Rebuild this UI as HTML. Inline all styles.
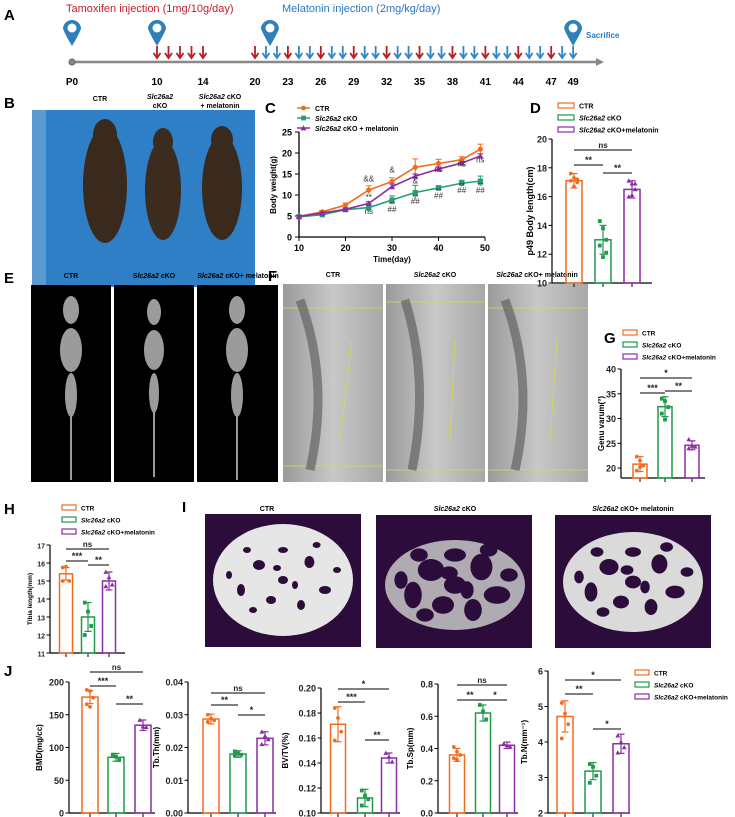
<!DOCTYPE html>
<html><head><meta charset="utf-8"><style>
html,body{margin:0;padding:0;background:#fff;}
svg{display:block;font-family:"Liberation Sans",Arial,sans-serif;}
</style></head><body>
<svg id="fig" width="735" height="817" viewBox="0 0 735 817" xmlns="http://www.w3.org/2000/svg">
<defs>
<linearGradient id="xr" x1="0" x2="1"><stop offset="0" stop-color="#9a9a9a"/><stop offset="0.5" stop-color="#c8c8c8"/><stop offset="1" stop-color="#a8a8a8"/></linearGradient>
</defs>
<g id="panelA">
<text x="4" y="20" font-size="15" font-weight="bold">A</text>
<text x="66" y="12" font-size="11" fill="#c0202a">Tamoxifen injection  (1mg/10g/day)</text>
<text x="282" y="12" font-size="11" fill="#2a78c0">Melatonin injection (2mg/kg/day)</text>
<line x1="72" y1="62" x2="596" y2="62" stroke="#888" stroke-width="2.5"/>
<polygon points="596,58 604,62 596,66" fill="#888"/>
<circle cx="72" cy="62" r="3" fill="#888" stroke="#666"/>
<text x="586" y="38" font-size="8" fill="#2a78c0" font-weight="bold">Sacrifice</text>
</g>
<g id="panelB">
<text x="4" y="108" font-size="15" font-weight="bold">B</text>
<rect x="32" y="110" width="223" height="177" fill="#2f7fc6"/>
<rect x="32" y="110" width="14" height="177" fill="#5a9ad0"/>
<text x="100" y="101" font-size="7" font-weight="bold" text-anchor="middle">CTR</text>
<text x="160" y="99" font-size="7" font-weight="bold" font-style="italic" text-anchor="middle">Slc26a2</text>
<text x="160" y="108" font-size="7" font-weight="bold" text-anchor="middle">cKO</text>
<text x="220" y="99" font-size="7" font-weight="bold" text-anchor="middle"><tspan font-style="italic">Slc26a2</tspan> cKO</text>
<text x="220" y="108" font-size="7" font-weight="bold" text-anchor="middle">+ melatonin</text>
<ellipse cx="105" cy="185" rx="22" ry="58" fill="#3a2a1e"/><ellipse cx="105" cy="135" rx="12" ry="16" fill="#3a2a1e"/>
<ellipse cx="163" cy="190" rx="18" ry="50" fill="#3c2c20"/><ellipse cx="163" cy="142" rx="10" ry="14" fill="#3c2c20"/>
<ellipse cx="222" cy="188" rx="20" ry="52" fill="#3a2a1e"/><ellipse cx="222" cy="140" rx="11" ry="14" fill="#3a2a1e"/>
</g>
<g id="panelE">
<text x="4" y="283" font-size="15" font-weight="bold">E</text>
<rect x="31" y="285" width="80" height="197" fill="#000"/><rect x="114" y="285" width="80" height="197" fill="#000"/><rect x="197" y="285" width="81" height="197" fill="#000"/>
<text x="71" y="278" font-size="7" font-weight="bold" text-anchor="middle">CTR</text>
<text x="154" y="278" font-size="7" font-weight="bold" text-anchor="middle"><tspan font-style="italic">Slc26a2</tspan> cKO</text>
<text x="238" y="278" font-size="7" font-weight="bold" text-anchor="middle"><tspan font-style="italic">Slc26a2</tspan> cKO+ melatonin</text>
<g fill="#cfcfcf" opacity="0.75"><ellipse cx="71" cy="310" rx="8" ry="14"/><ellipse cx="71" cy="350" rx="11" ry="22"/><ellipse cx="71" cy="395" rx="6" ry="22"/><rect x="70" y="415" width="2" height="65"/>
<ellipse cx="154" cy="312" rx="7" ry="13"/><ellipse cx="154" cy="350" rx="10" ry="20"/><ellipse cx="154" cy="393" rx="5" ry="20"/><rect x="153" y="412" width="2" height="65"/>
<ellipse cx="237" cy="310" rx="8" ry="14"/><ellipse cx="237" cy="350" rx="11" ry="22"/><ellipse cx="237" cy="395" rx="6" ry="22"/><rect x="236" y="415" width="2" height="65"/></g>
</g>
<g id="panelF">
<text x="268" y="281" font-size="15" font-weight="bold">F</text>
<rect x="283" y="284" width="100" height="198" fill="url(#xr)"/><rect x="386" y="284" width="99" height="198" fill="url(#xr)"/><rect x="488" y="284" width="100" height="198" fill="url(#xr)"/>
<text x="333" y="277" font-size="7" font-weight="bold" text-anchor="middle">CTR</text>
<text x="435" y="277" font-size="7" font-weight="bold" text-anchor="middle"><tspan font-style="italic">Slc26a2</tspan> cKO</text>
<text x="537" y="277" font-size="7" font-weight="bold" text-anchor="middle"><tspan font-style="italic">Slc26a2</tspan> cKO+ melatonin</text>
<g stroke="#dcd84a" stroke-width="0.8" fill="none">
<line x1="283" y1="308" x2="383" y2="308"/><line x1="283" y1="466" x2="383" y2="466"/><line x1="352" y1="340" x2="340" y2="440"/>
<line x1="386" y1="302" x2="485" y2="302"/><line x1="386" y1="470" x2="485" y2="470"/><line x1="455" y1="340" x2="450" y2="440"/>
<line x1="488" y1="308" x2="588" y2="308"/><line x1="488" y1="470" x2="588" y2="470"/><line x1="557" y1="340" x2="550" y2="440"/></g>
<g stroke="#555" stroke-width="9" fill="none" opacity="0.6"><path d="M300 300 Q330 380 310 470"/><path d="M405 300 Q430 380 412 470"/><path d="M505 300 Q535 380 515 470"/></g>
</g>
<g id="panelI">
<text x="182" y="512" font-size="15" font-weight="bold">I</text>
<rect x="205" y="514" width="156" height="133" fill="#2b0c3a"/><rect x="376" y="515" width="156" height="133" fill="#2b0c3a"/><rect x="555" y="515" width="156" height="133" fill="#2b0c3a"/>
<text x="267" y="511" font-size="7" font-weight="bold" text-anchor="middle">CTR</text>
<text x="455" y="511" font-size="7" font-weight="bold" text-anchor="middle"><tspan font-style="italic">Slc26a2</tspan> cKO</text>
<text x="633" y="511" font-size="7" font-weight="bold" text-anchor="middle"><tspan font-style="italic">Slc26a2</tspan> cKO+ melatonin</text>
<ellipse cx="283" cy="580" rx="70" ry="56" fill="#e6e6e6"/>
<g fill="#2b0c3a" id="holes1"></g>
<ellipse cx="455" cy="585" rx="70" ry="45" fill="#c8c8c8" opacity="0.85"/>
<g fill="#2b0c3a" id="holes2"></g>
<ellipse cx="633" cy="582" rx="70" ry="50" fill="#dadada"/>
<g fill="#2b0c3a" id="holes3"></g>
</g>
<g id="charts"></g>
</svg>
<script>
// ---- Panel C data ----
var cDays=[10,15,20,25,30,35,40,45,49];
var cCTR=[4.9,6.0,7.6,11.2,13.2,16.6,17.5,18.4,20.9];
var cCTRerr=[0.3,0.3,0.5,1.0,0.9,2.0,1.0,0.7,1.2];
var cKO=[4.8,5.3,6.5,7.0,8.8,10.6,11.7,12.8,13.3];
var cKOerr=[0.2,0.3,0.3,0.9,1.0,1.7,0.5,0.7,1.2];
var cMel=[4.9,5.7,6.6,8.0,12.0,14.5,16.2,17.6,19.3];
var cMelErr=[0.2,0.3,0.3,0.4,0.6,0.5,0.5,0.4,0.5];
var cTicksX=[10,20,30,40,50];
var cTicksY=[0,5,10,15,20,25];
// ---- Timeline data ----
var tlDays=[10,14,20,23,26,29,32,35,38,41,44,47,49];
var tamoxDays=[10,11,12,13,14,20,23,26,29,32,35,38,41,44,47];
var melDays=[21,22,24,25,27,28,30,31,33,34,36,37,39,40,42,43,45,46,48,49];
var pinDays=[0,10,20,49];
// ---- Bar chart data ----
var dMeans=[17.1,13.0,16.5], dErr=[0.5,1.0,0.6];
var dPts=[[17.6,17.3,17.0,17.1,16.7,17.2],[14.3,13.8,13.0,12.6,11.8,12.1],[17.1,16.9,16.5,16.0,16.1,16.9]];
var gMeans=[20.8,32.4,24.6], gErr=[1.5,2.0,0.9];
var gPts=[[22.3,21.5,20.5,19.5,20.2],[34.0,33.5,32.3,31.0,29.8],[25.8,24.5,24.3,24.0]];
var hMeans=[15.4,13.0,15.0], hErr=[0.35,0.8,0.5];
var hPts=[[15.75,15.8,15.0,15.0],[13.8,13.3,12.5,12.0],[15.5,15.2,14.8,14.7]];
var bmdMeans=[177,85,134], bmdErr=[10,6,8];
var bmdPts=[[188,186,176,166,162],[89,86,81],[142,132,131]];
var tbthMeans=[0.0287,0.0180,0.0228], tbthErr=[0.0015,0.001,0.002];
var tbthPts=[[0.030,0.0288,0.0283,0.0278],[0.0188,0.0182,0.0178,0.0175],[0.0248,0.0235,0.0225,0.021]];
var bvtvMeans=[0.171,0.112,0.144], bvtvErr=[0.014,0.007,0.004];
var bvtvPts=[[0.184,0.176,0.165,0.158],[0.118,0.114,0.111,0.106],[0.148,0.145,0.141]];
var tbspMeans=[0.36,0.62,0.42], tbspErr=[0.04,0.05,0.02];
var tbspPts=[[0.41,0.38,0.36,0.34,0.33],[0.67,0.63,0.58],[0.43,0.42,0.41]];
var tbnMeans=[4.72,3.18,3.95], tbnErr=[0.44,0.24,0.27];
var tbnPts=[[5.1,4.8,4.5,4.1],[3.38,3.3,3.05,2.85],[4.18,4.0,3.85,3.7]];
var groupNames=['CTR','Slc26a2 cKO','Slc26a2 cKO+melatonin'];

var NS='http://www.w3.org/2000/svg';
var COL=['#f26b21','#1e9a4a','#8b2da3'];
var CCOL=['#f26b21','#22a070','#8b2da3'];
var root=document.getElementById('charts');
function mk(tag,attrs,parent){var e=document.createElementNS(NS,tag);for(var k in attrs)e.setAttribute(k,attrs[k]);(parent||root).appendChild(e);return e;}
function txt(x,y,s,attrs,parent){var a={x:x,y:y};for(var k in attrs)a[k]=attrs[k];var e=mk('text',a,parent);e.textContent=s;return e;}
function marker(g,type,x,y,c,r){
 if(type===0)return mk('circle',{cx:x,cy:y,r:r,fill:c},g);
 if(type===1)return mk('rect',{x:x-r,y:y-r,width:2*r,height:2*r,fill:c},g);
 return mk('polygon',{points:(x)+','+(y-r-0.5)+' '+(x-r-0.5)+','+(y+r)+' '+(x+r+0.5)+','+(y+r),fill:c},g);
}
// timeline
(function(){
 var tl=document.getElementById('panelA');
 function dx(d){if(d===0)return 72; if(d<=14)return 157+(d-10)*11.5; return 255+(d-20)*10.97;}
 tlDays.forEach(function(d){var t=txt(dx(d),85,String(d),{'font-size':10,'font-weight':'bold','text-anchor':'middle'},tl);
  
  });
 var p0=txt(72,85,'P0',{'font-size':10,'font-weight':'bold','text-anchor':'middle'},tl);
 
 
 function arrow(d,c){var x=dx(d);var g=mk('g',{},tl);
  
  
  mk('line',{x1:x,y1:46,x2:x,y2:57,stroke:c,'stroke-width':1.8},g);
  mk('polyline',{points:(x-3.5)+',53 '+x+',58 '+(x+3.5)+',53',stroke:c,'stroke-width':1.8,fill:'none'},g);}
 tamoxDays.forEach(function(d){arrow(d,'#b81c24');});
 melDays.forEach(function(d){arrow(d,'#2f86c8');});
 pinDays.forEach(function(d){var x=dx(d);if(d===20)x=270;var g=mk('g',{},tl);
  
  
  mk('path',{d:'M'+(x-9)+' 29 A9 9 0 1 1 '+(x+9)+' 29 Q'+(x+6)+' 36 '+x+' 46 Q'+(x-6)+' 36 '+(x-9)+' 29 Z',fill:'#2f7fb8'},g);
  mk('circle',{cx:x,cy:28,r:4.5,fill:'#fff'},g);});
})();
// micro CT holes (decorative)
(function(){
 var spots=[[0,0,5,4],[-20,-15,6,5],[22,-18,5,6],[-35,10,4,6],[35,10,6,4],[-10,20,5,4],[15,25,4,5],[-45,-5,3,4],[45,-10,4,3],[0,-30,5,3],[-25,30,4,3],[28,-35,4,3],[-30,-30,4,3],[10,5,3,4],[-5,-12,4,3]];
 [['holes1',283,580,1],['holes2',455,585,2.2],['holes3',633,582,1.6]].forEach(function(h){var g=document.getElementById(h[0]);
  spots.forEach(function(s){mk('ellipse',{cx:h[1]+s[0]*1.2,cy:h[2]+s[1],rx:s[2]*h[3],ry:s[3]*h[3]},g);});});
})();
// Panel C
(function(){
 var g=mk('g',{});
 
 
 var X=function(v){return 299+(v-10)*(485-299)/40;}, Y=function(v){return 237-v*(237-132)/25;};
 txt(265,113,'C',{'font-size':15,'font-weight':'bold'},g);
 mk('line',{x1:299,y1:132,x2:299,y2:237,stroke:'#000','stroke-width':1.3},g);
 mk('line',{x1:299,y1:237,x2:485,y2:237,stroke:'#000','stroke-width':1.3},g);
 cTicksY.forEach(function(v){mk('line',{x1:295,y1:Y(v),x2:299,y2:Y(v),stroke:'#000'},g);txt(292,Y(v)+3.5,String(v),{'font-size':9,'font-weight':'bold','text-anchor':'end'},g);});
 cTicksX.forEach(function(v){mk('line',{x1:X(v),y1:237,x2:X(v),y2:241,stroke:'#000'},g);txt(X(v),251,String(v),{'font-size':9,'font-weight':'bold','text-anchor':'middle'},g);});
 txt(392,262,'Time(day)',{'font-size':8,'font-weight':'bold','text-anchor':'middle'},g);
 txt(0,0,'Body weight(g)',{'font-size':8,'font-weight':'bold','text-anchor':'middle',transform:'translate(276,185) rotate(-90)'},g);
 [[cCTR,cCTRerr],[cKO,cKOerr],[cMel,cMelErr]].forEach(function(s,si){
  var c=CCOL[si];var sg=mk('g',{},g);
  
  
  mk('polyline',{points:cDays.map(function(d,i){return X(d)+','+Y(s[0][i]);}).join(' '),fill:'none',stroke:c,'stroke-width':1.6},sg);
  cDays.forEach(function(d,i){var x=X(d);
   mk('line',{x1:x,y1:Y(s[0][i]+s[1][i]),x2:x,y2:Y(s[0][i]-s[1][i]),stroke:c},sg);
   mk('line',{x1:x-3,y1:Y(s[0][i]+s[1][i]),x2:x+3,y2:Y(s[0][i]+s[1][i]),stroke:c},sg);
   var m=marker(sg,si,x,Y(s[0][i]),c,2.6);
   
   });
 });
 var ann=[[25,13.2,'&&'],[30,15.3,'&'],[35,12.7,'&'],[25,8.8,'**'],[25,5.5,'ns'],[30,7.0,'**'],[30,6.0,'##'],[35,8.8,'**'],[35,7.8,'##'],[40,10.2,'**'],[40,9.2,'##'],[45,11.5,'**'],[45,10.5,'##'],[49,11.5,'**'],[49,10.5,'##'],[40,15.5,'ns'],[45,16.8,'ns'],[49,17.7,'ns']];
 ann.forEach(function(a){txt(X(a[0]),Y(a[1]),a[2],{'font-size':8,'text-anchor':'middle',fill:'#333'},g);});
 ['CTR','Slc26a2 cKO','Slc26a2 cKO + melatonin'].forEach(function(n,i){var y=108+i*10;
  mk('line',{x1:297,y1:y,x2:310,y2:y,stroke:CCOL[i],'stroke-width':1.5},g);marker(g,i,303.5,y,CCOL[i],2.4);
  var t=txt(315,y+3,'',{'font-size':7,'font-weight':'bold'},g);
  if(i===0)t.textContent=n;else{var a=mk('tspan',{'font-style':'italic'},t);a.textContent='Slc26a2 ';var b=mk('tspan',{},t);b.textContent=i===1?'cKO':'cKO + melatonin';}
 });
})();
// Generic bar chart
function barChart(o){
 var g=mk('g',{});
 
 
 var Y=function(v){return o.yB-(v-o.vmin)*(o.yB-o.yT)/(o.vmax-o.vmin);};
 mk('line',{x1:o.ax,y1:o.yT,x2:o.ax,y2:o.yB,stroke:'#000','stroke-width':1.2},g);
 mk('line',{x1:o.ax,y1:o.yB,x2:o.axEnd,y2:o.yB,stroke:'#000','stroke-width':1.2},g);
 o.ticks.forEach(function(v){mk('line',{x1:o.ax-3.5,y1:Y(v),x2:o.ax,y2:Y(v),stroke:'#000'},g);
  txt(o.ax-5,Y(v)+3.5,o.fmt(v),{'font-size':o.fs||9,'font-weight':'bold','text-anchor':'end',fill:'#222'},g);});
 txt(0,0,o.title,{'font-size':o.tfs||8,'font-weight':'bold','text-anchor':'middle',transform:'translate('+o.tx+','+((o.yT+o.yB)/2)+') rotate(-90)'},g);
 o.centers.forEach(function(cx,i){var c=COL[i];
  mk('line',{x1:cx,y1:o.yB,x2:cx,y2:o.yB+4,stroke:'#000'},g);
  var b=mk('rect',{x:cx-o.bw/2,y:Y(o.means[i]),width:o.bw,height:o.yB-Y(o.means[i]),fill:'none',stroke:c,'stroke-width':1.5},g);
  
  
  var hi=Y(o.means[i]+o.errs[i]),lo=Y(o.means[i]-o.errs[i]);
  mk('line',{x1:cx,y1:hi,x2:cx,y2:lo,stroke:c,'stroke-width':1.2},g);
  mk('line',{x1:cx-3.5,y1:hi,x2:cx+3.5,y2:hi,stroke:c,'stroke-width':1.2},g);
  mk('line',{x1:cx-3.5,y1:lo,x2:cx+3.5,y2:lo,stroke:c,'stroke-width':1.2},g);
  o.pts[i].forEach(function(v,k){var off=((k%3)-1)*3.2;marker(g,i,cx+off,Y(v),c,1.9);});
 });
 o.sigs.forEach(function(s){var x1=o.centers[s[0]],x2=o.centers[s[1]];
  mk('line',{x1:x1,y1:s[2],x2:x2,y2:s[2],stroke:'#000','stroke-width':1},g);
  txt((x1+x2)/2,s[2]-2,s[3],{'font-size':s[3]==='ns'?8:9,'font-weight':'bold','text-anchor':'middle',fill:'#222'},g);});
 if(o.legend){o.legend.forEach(function(l,i){var y=o.legend.y0+i*o.legend.dy;
  mk('rect',{x:o.legend.x,y:y-3,width:o.legend.w||12,height:5,fill:'none',stroke:COL[i],'stroke-width':1.2},g);
  var t=txt(o.legend.x+(o.legend.w||12)+5,y+2.5,'',{'font-size':o.legend.fs||6.5,'font-weight':'bold'},g);
  if(i===0)t.textContent='CTR';else{var a=mk('tspan',{'font-style':'italic'},t);a.textContent='Slc26a2 ';var b=mk('tspan',{},t);b.textContent=i===1?'cKO':'cKO+melatonin';}});}
 return g;
}
function L(x,y0,dy,fs,w){var a=[0,1,2];a.x=x;a.y0=y0;a.dy=dy;a.fs=fs;a.w=w;return a;}
function f0(v){return String(v);}
barChart({name:'body-length-chart',ax:552,axEnd:652,yT:139,yB:283,vmin:10,vmax:20,ticks:[10,12,14,16,18,20],fmt:f0,fs:9,centers:[574,603,632],bw:16,means:dMeans,errs:dErr,pts:dPts,
 sigs:[[0,2,150,'ns'],[0,1,165,'**'],[1,2,173,'**']],title:'p49 Body length(cm)',tfs:9,tx:533,legend:L(558,106,12,7,16)});
txt(530,113,'D',{'font-size':15,'font-weight':'bold'});
barChart({name:'genu-varum-chart',ax:621,axEnd:705,yT:369,yB:478,vmin:18,vmax:40,ticks:[20,25,30,35,40],fmt:f0,centers:[640,665,692],bw:14,means:gMeans,errs:gErr,pts:gPts,
 sigs:[[0,2,378,'*'],[0,1,393,'***'],[1,2,391,'**']],title:'Genu varum(°)',tx:604,legend:L(623,333,12,6.5,14)});
txt(604,343,'G',{'font-size':15,'font-weight':'bold'});
barChart({name:'tibia-length-chart',ax:50,axEnd:125,yT:545,yB:653,vmin:11,vmax:17,ticks:[11,12,13,14,15,16,17],fmt:f0,fs:7,centers:[66,88,109],bw:13,means:hMeans,errs:hErr,pts:hPts,
 sigs:[[0,2,549,'ns'],[0,1,561,'***'],[1,2,565,'**']],title:'Tibia length(mm)',tfs:6.5,tx:32,legend:L(62,508,12,6.5,14)});
txt(4,514,'H',{'font-size':15,'font-weight':'bold'});
txt(4,676,'J',{'font-size':15,'font-weight':'bold'});
barChart({name:'bmd-chart',ax:69,axEnd:155,yT:682,yB:813,vmin:0,vmax:200,ticks:[0,50,100,150,200],fmt:f0,centers:[90,116,143],bw:16,means:bmdMeans,errs:bmdErr,pts:bmdPts,
 sigs:[[0,2,672,'ns'],[0,1,686,'***'],[1,2,704,'**']],title:'BMD(mg/cc)',tx:42});
barChart({name:'tb-th-chart',ax:188,axEnd:276,yT:682,yB:813,vmin:0,vmax:0.04,ticks:[0,0.01,0.02,0.03,0.04],fmt:function(v){return v.toFixed(2);},centers:[211,238,265],bw:16,means:tbthMeans,errs:tbthErr,pts:tbthPts,
 sigs:[[0,2,693,'ns'],[0,1,705,'**'],[1,2,715,'*']],title:'Tb.Th(mm)',tx:159});
barChart({name:'bv-tv-chart',ax:321,axEnd:400,yT:688,yB:813,vmin:0.1,vmax:0.2,ticks:[0.10,0.12,0.14,0.16,0.18,0.20],fmt:function(v){return v.toFixed(2);},centers:[338,365,389],bw:15,means:bvtvMeans,errs:bvtvErr,pts:bvtvPts,
 sigs:[[0,2,689,'*'],[0,1,702,'***'],[1,2,740,'**']],title:'BV/TV(%)',tx:288});
barChart({name:'tb-sp-chart',ax:438,axEnd:518,yT:684,yB:813,vmin:0,vmax:0.8,ticks:[0,0.2,0.4,0.6,0.8],fmt:function(v){return v.toFixed(1);},centers:[457,483,507],bw:15,means:tbspMeans,errs:tbspErr,pts:tbspPts,
 sigs:[[0,2,685,'ns'],[0,1,700,'**'],[1,2,700,'*']],title:'Tb.Sp(mm)',tx:413});
barChart({name:'tb-n-chart',ax:548,axEnd:630,yT:671,yB:813,vmin:2,vmax:6,ticks:[2,3,4,5,6],fmt:f0,centers:[565,593,621],bw:16,means:tbnMeans,errs:tbnErr,pts:tbnPts,
 sigs:[[0,2,680,'*'],[0,1,694,'**'],[1,2,729,'*']],title:'Tb.N(mm⁻¹)',tx:527,legend:L(635,673,12,6.5,14)});
</script>
</body></html>
